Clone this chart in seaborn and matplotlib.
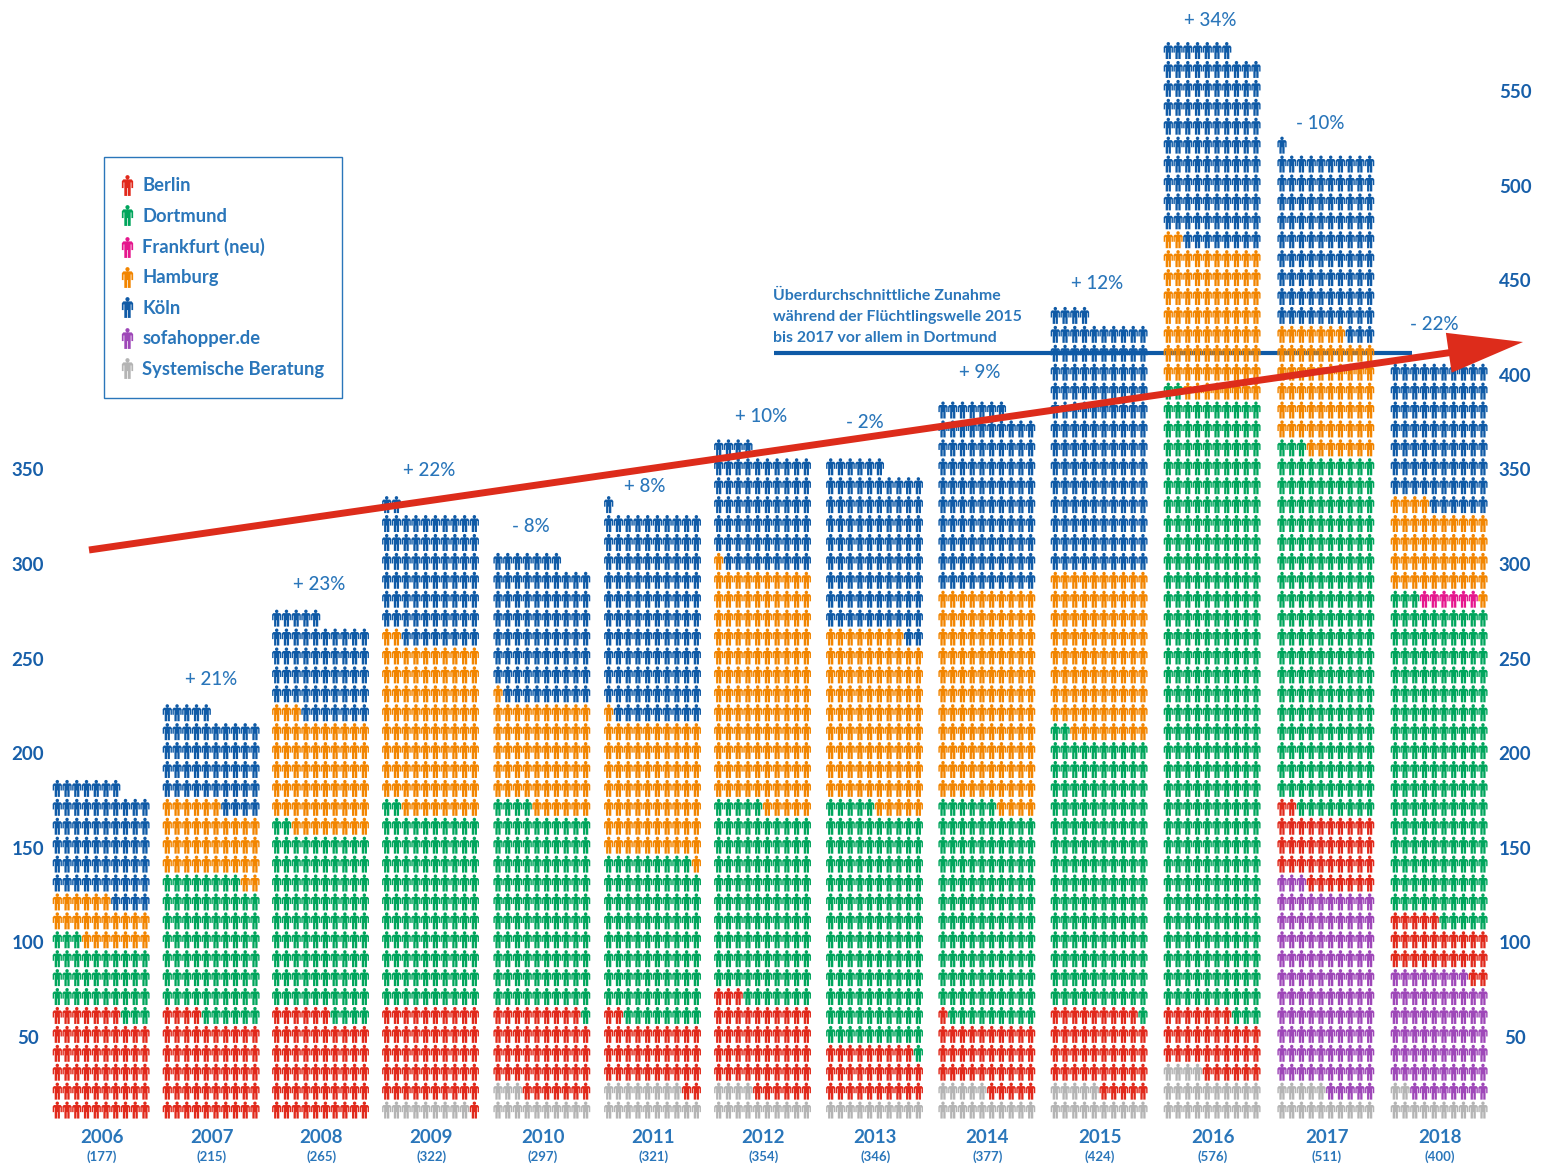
import numpy as np
import pandas as pd
import matplotlib
matplotlib.use('Agg')
import matplotlib.pyplot as plt
import seaborn as sns
from matplotlib.lines import Line2D
from matplotlib.path import Path

# DATA
years = [2006, 2007, 2008, 2009, 2010, 2011, 2012, 2013, 2014, 2015, 2016, 2017, 2018]
count_labels = [177, 215, 265, 322, 297, 321, 354, 346, 377, 424, 576, 511, 400]
pct_labels = ['', '+ 21%', '+ 23%', '+ 22%', '- 8%', '+ 8%', '+ 10%', '- 2%', '+ 9%', '+ 12%', '+ 34%', '- 10%', '- 22%']

# figures per site, bottom-up stacking order
systemisch = [0, 0, 0, 9, 13, 18, 14, 10, 15, 15, 24, 15, 12]
sofahopper = [0, 0, 0, 0, 0, 0, 0, 0, 0, 0, 0, 108, 66]
berlin = [57, 54, 56, 51, 46, 34, 49, 29, 36, 44, 33, 39, 27]
dortmund = [36, 74, 96, 102, 105, 87, 102, 126, 115, 143, 325, 191, 168]
frankfurt = [0, 0, 0, 0, 0, 0, 0, 0, 0, 0, 0, 0, 6]
hamburg = [23, 38, 61, 90, 57, 72, 126, 93, 114, 88, 80, 64, 45]
koeln = [61, 49, 52, 70, 76, 110, 63, 88, 97, 134, 105, 94, 76]

left_ticks = [50, 100, 150, 200, 250, 300, 350]
right_ticks = [50, 100, 150, 200, 250, 300, 350, 400, 450, 500, 550]

stack = [('Systemische Beratung', systemisch), ('sofahopper.de', sofahopper), ('Berlin', berlin),
         ('Dortmund', dortmund), ('Frankfurt (neu)', frankfurt), ('Hamburg', hamburg), ('Köln', koeln)]
legend_order = ['Berlin', 'Dortmund', 'Frankfurt (neu)', 'Hamburg', 'Köln', 'sofahopper.de', 'Systemische Beratung']
palette = {'Berlin': '#e1291b', 'Dortmund': '#00a55c', 'Frankfurt (neu)': '#e5178d', 'Hamburg': '#f28500',
           'Köln': '#0f5aa6', 'sofahopper.de': '#9e47b8', 'Systemische Beratung': '#b4b4b4'}

# LAYOUT (reference pixels)
W, H = 1542, 1166
column_x = [57.3, 167.3, 276.7, 386.7, 498, 608.7, 718.7, 830.7, 943, 1055.3, 1168.3, 1282, 1395.3]
slot_w = 9.74
pct_x = [0, 211, 319, 429, 531, 645, 761, 865, 980, 1097, 1210, 1320, 1434]
pct_y = [0, 680, 585, 471, 527, 487, 417, 422, 373, 284, 21, 124, 324]
TEXT_BLUE = '#2a76ba'
TICK_BLUE = '#175fa9'


def val(py):
    # pixel row in the reference -> value on the y axis
    return 50 + (1037 - py) / 1.892


# one little person, unit height
def person():
    t = np.linspace(0, 2 * np.pi, 14)[:-1]
    head = [(1.75 * np.cos(a), 1.75 + 1.75 * np.sin(a)) for a in t]
    body = [(-4.6, 5), (-3.4, 3.5), (3.4, 3.5), (4.6, 5), (4.6, 10.6), (3.2, 10.6), (3.2, 6), (2.6, 6),
            (2.6, 17), (0.3, 17), (0.3, 10.6), (-0.3, 10.6), (-0.3, 17), (-2.6, 17), (-2.6, 6), (-3.2, 6),
            (-3.2, 10.6), (-4.6, 10.6)]
    parts = []
    for pts in (head, body):
        xy = np.array(pts + [pts[0]], dtype=float)
        xy = np.column_stack([xy[:, 0] / 17, (8.5 - xy[:, 1]) / 17])
        parts.append(Path(xy, closed=True))
    return Path.make_compound_path(*parts)


PERSON = person()

# one row per figure
recs = []
for j, year in enumerate(years):
    n = 0
    for site, counts in stack:
        for _ in range(counts[j]):
            recs.append({'year': year, 'site': site, 'x': column_x[j] + (n % 10) * slot_w, 'y': (n // 10 + 1) * 10 + 1.4})
            n += 1
df = pd.DataFrame(recs)

sns.set_theme(style='white')
plt.rcParams['font.family'] = ['Lato', 'DejaVu Sans']

fig = plt.figure(figsize=(W / 100, H / 100), dpi=100)
ax = fig.add_axes([46 / W, (H - 1124) / H, (1497 - 46) / W, 1124 / H])

# blue note line sits behind the figures
ax.plot([774, 1412], [val(353), val(353)], color='#0f5aa6', lw=3, solid_capstyle='butt', zorder=1)

sns.scatterplot(data=df, x='x', y='y', hue='site', palette=palette, hue_order=legend_order,
                marker=PERSON, s=150, linewidth=0, legend=False, zorder=3, ax=ax)

ax.set_xlim(46, 1497)
ax.set_ylim(val(1124), val(0))
ax.set_xlabel('')
ax.set_ylabel('')
sns.despine(ax=ax, left=True, bottom=True)

# year ticks and counts
ax.set_xticks([x + 44.5 for x in column_x])
ax.set_xticklabels(years, fontsize=13.5, fontweight='bold', color=TEXT_BLUE)
ax.tick_params(axis='x', length=0, pad=3.5)
for x, c in zip(column_x, count_labels):
    ax.annotate(f'({c})', (x + 44.5, val(1156.5)), ha='center', va='center', fontsize=9.5, fontweight='bold',
                color=TEXT_BLUE, annotation_clip=False)

# value ticks on both sides
ax.set_yticks(left_ticks)
ax.set_yticklabels(left_ticks, fontsize=13.5, fontweight='bold', color=TICK_BLUE, ha='center')
ax.tick_params(axis='y', length=0, pad=13)
ax2 = ax.twinx()
ax2.set_ylim(ax.get_ylim())
ax2.set_yticks(right_ticks)
ax2.set_yticklabels(right_ticks, fontsize=13.5, fontweight='bold', color=TICK_BLUE, ha='center')
ax2.tick_params(axis='y', length=0, pad=13)
ax2.grid(False)
sns.despine(ax=ax2, left=True, right=True, bottom=True)
ax2.set_zorder(ax.get_zorder() - 1)
ax.patch.set_visible(False)

for lab, x, y in zip(pct_labels, pct_x, pct_y):
    if lab:
        ax.text(x, val(y), lab, ha='center', va='center', fontsize=13.5, fontweight='medium', color=TEXT_BLUE, zorder=4)

ax.text(773, val(317), 'Überdurchschnittliche Zunahme\nwährend der Flüchtlingswelle 2015\nbis 2017 vor allem in Dortmund',
        ha='left', va='center', fontsize=11.4, fontweight='bold', color=TEXT_BLUE, linespacing=1.6, zorder=4)

# trend arrow over everything
ax.annotate('', xy=(1523, val(342)), xytext=(89, val(550)), zorder=6, annotation_clip=False,
            arrowprops=dict(arrowstyle='simple,head_length=54,head_width=29,tail_width=5', mutation_scale=1,
                            color='#dd2c1b', lw=0, shrinkA=0, shrinkB=0))

# legend
handles = [Line2D([], [], linestyle='none', marker=PERSON, markersize=15, markeredgewidth=0,
                  markerfacecolor=palette[s], label=s) for s in legend_order]
leg = fig.legend(handles=handles, loc='upper left', bbox_to_anchor=(104 / W, 1 - 398 / H, 238 / W, 241 / H),
                 mode='expand', borderaxespad=0, frameon=True, fancybox=False, framealpha=1,
                 edgecolor='#2a76ba', fontsize=13.2, labelcolor=TEXT_BLUE,
                 labelspacing=0.73, borderpad=1.1, handlelength=0.3, handletextpad=0.7)
for t in leg.get_texts():
    t.set_fontweight('bold')
leg.get_frame().set_linewidth(1)

fig.savefig('out.png', dpi=100)
